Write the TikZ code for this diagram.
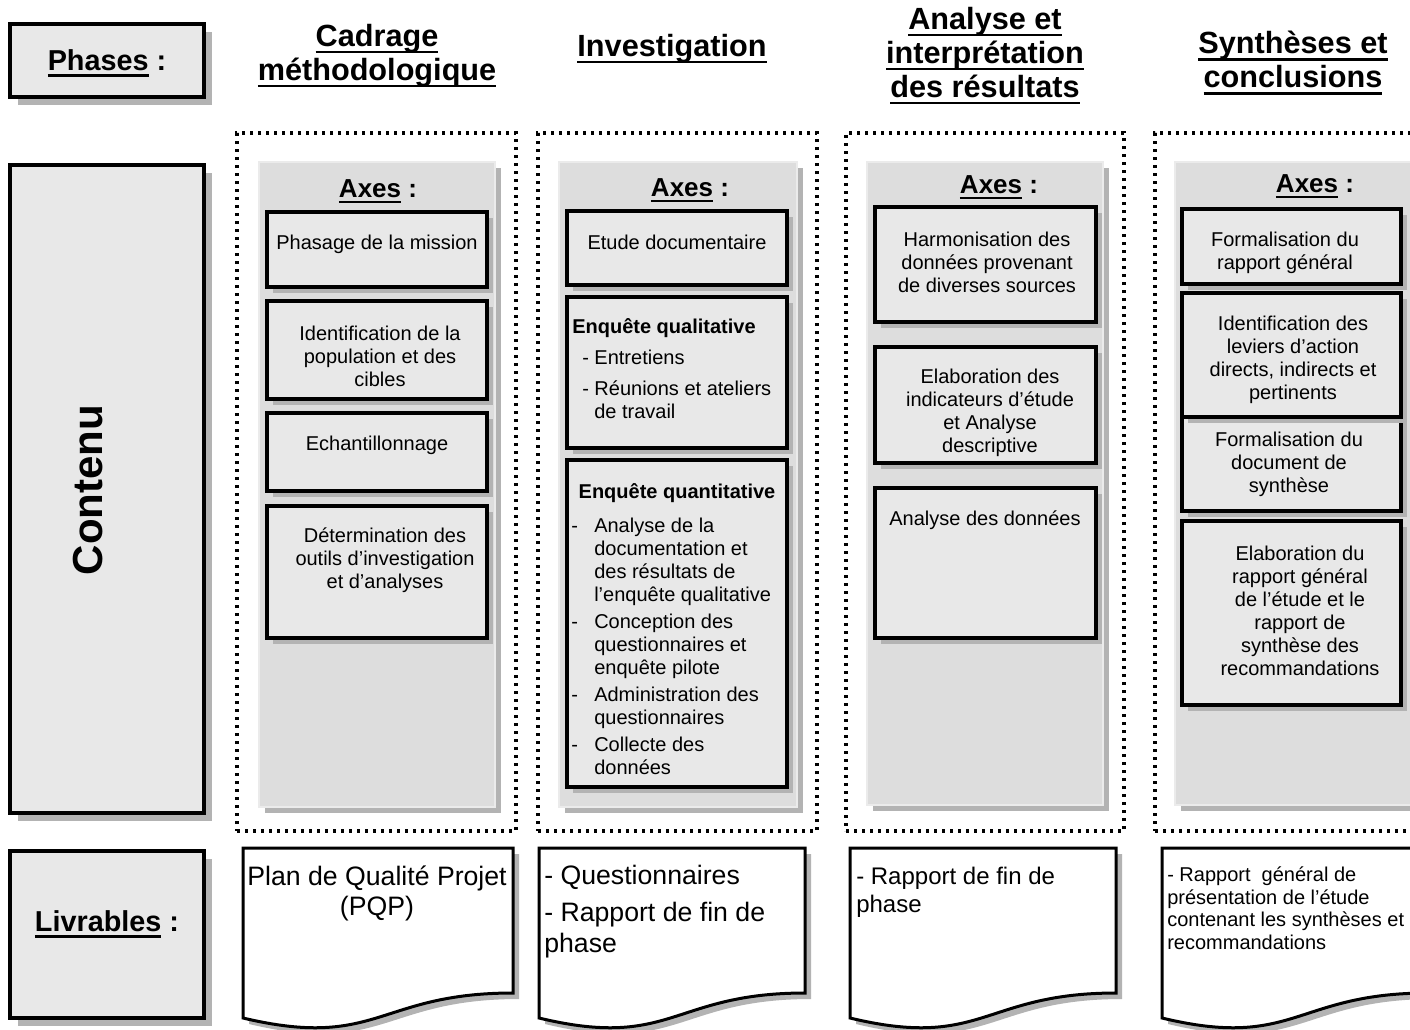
\documentclass[tikz,border=0pt]{standalone}
\usepackage{fontspec}
\setmainfont{Liberation Sans}
\usetikzlibrary{fit,shadows}
\definecolor{boxgrey}{HTML}{E8E8E8}
\definecolor{panelgrey}{HTML}{DDDDDD}
\definecolor{paneledge}{HTML}{EBEBEB}
\definecolor{shadowgrey}{HTML}{B3B3B3}
\newcommand\fs[2]{\fontsize{#1}{#2}\selectfont}
\newsavebox\myulbox
\newcommand\myul[1]{\sbox\myulbox{#1}\rlap{\rule[-0.22em]{\wd\myulbox}{0.085em}}\usebox\myulbox}
\begin{document}
\begin{tikzpicture}[x=0.75pt,y=-0.75pt,
  lbox/.style={draw=black, line width=3pt, fill=boxgrey, inner sep=0pt,
    drop shadow={shadow xshift=6pt, shadow yshift=-6pt, fill=shadowgrey, opacity=1}},
  dotbox/.style={draw=black, line width=2.5pt, dash pattern=on 2.5pt off 3.5pt, inner sep=0pt},
  panel/.style={draw=paneledge, line width=2pt, fill=panelgrey, inner sep=0pt,
    drop shadow={shadow xshift=4.5pt, shadow yshift=-4.5pt, fill=shadowgrey, opacity=1}},
  ibox/.style={draw=black, line width=2.5pt, fill=boxgrey, inner sep=0pt,
    drop shadow={shadow xshift=4.5pt, shadow yshift=-4.5pt, fill=shadowgrey, opacity=1}},
  body/.style={font={\fs{15}{17.25}}, align=center, inner sep=0pt},
  lline/.style={font={\fs{15}{17.25}}, inner sep=0pt, anchor=base west},
  hdr/.style={font={\bfseries\fs{23}{25.5}}, align=center, inner sep=0pt},
  axes/.style={font={\bfseries\fs{19.5}{22}}, inner sep=0pt},
  lbl/.style={font={\bfseries\fs{21.6}{24}}, inner sep=0pt},
  docline/.style={draw=black, line width=2.25pt, fill=white},
  docshadow/.style={fill=shadowgrey, xshift=4.5pt, yshift=-4.5pt},
  docshape/.style n args={2}{insert path={(#1,848) -- (#2,848) -- (#2,993)
     .. controls ({(#1+#2)/2},993) and ({(#1+#2)/2},1050) .. (#1,1018) -- cycle}}
]
\useasboundingbox (0,0) rectangle (1410,1029);

% ---------- left labels ----------
\node[lbox, fit={(10,24) (204,97)}] (phbox) {};
\node[lbl] (phtxt) at (107,63) {\myul{Phases} :};
\node[lbox, fit={(10,165) (204,813)}] (cobox) {};
\node[font={\bfseries\fs{31.5}{34}}, rotate=90, inner sep=0pt] (cotxt) at (88,490) {Contenu};
\node[lbox, fit={(10,851) (204,1018)}] (lvbox) {};
\node[lbl] (lvtxt) at (107,924) {\myul{Livrables} :};

% ---------- headers ----------
\node[hdr] (h1) at (377,56) {\myul{Cadrage}\\\myul{méthodologique}};
\node[hdr] (h2) at (672,49) {\myul{Investigation}};
\node[hdr] (h3) at (985,56) {\myul{Analyse et}\\\myul{interprétation}\\\myul{des résultats}};
\node[hdr] (h4) at (1293,63) {\myul{Synthèses et}\\\myul{conclusions}};

% ---------- dotted containers ----------
\node[dotbox, fit={(237,133) (516,831)}] (c1) {};
\node[dotbox, fit={(538,133) (817,831)}] (c2) {};
\node[dotbox, fit={(846,133) (1124,831)}] (c3) {};
\node[dotbox, fit={(1155,133) (1434,831)}] (c4) {};

% ---------- panels ----------
\node[panel, fit={(259,162) (495,807)}] (p1) {};
\node[panel, fit={(559,162) (797,807)}] (p2) {};
\node[panel, fit={(867,162) (1103,805)}] (p3) {};
\node[panel, fit={(1175,162) (1413,805)}] (p4) {};

\node[axes] (a1) at (378,191) {\myul{Axes} :};
\node[axes] (a2) at (690,190) {\myul{Axes} :};
\node[axes] (a3) at (999,187) {\myul{Axes} :};
\node[axes] (a4) at (1315,186) {\myul{Axes} :};

% ---------- column 1 ----------
\node[ibox, fit={(267,212) (487,287)}] (b11) {};
\node[body] (t11) at (377,244) {Phasage de la mission};
\node[ibox, fit={(267,301) (487,399)}] (b12) {};
\node[body] (t12) at (380,356) {Identification de la\\population et des\\cibles};
\node[ibox, fit={(267,413) (487,491)}] (b13) {};
\node[body] (t13) at (377,445) {Echantillonnage};
\node[ibox, fit={(267,506) (487,638)}] (b14) {};
\node[body] (t14) at (385,560) {Détermination des\\outils d’investigation\\et d’analyses};

% ---------- column 2 ----------
\node[ibox, fit={(567,211) (787,285)}] (b21) {};
\node[body] (t21) at (677,242) {Etude documentaire};
\node[ibox, fit={(567,297) (787,448)}] (b22) {};
\node[lline, font={\bfseries\fs{15}{17.25}}] (t22a) at (572,333) {Enquête qualitative};
\node[lline] (t22b) at (582,364) {- Entretiens};
\node[lline] (t22c) at (582,395) {- Réunions et ateliers};
\node[lline] (t22d) at (594,418) {de travail};
\node[ibox, fit={(567,460) (787,787)}] (b23) {};
\node[body, font={\bfseries\fs{15}{17.25}}] (t23) at (677,493) {Enquête quantitative};
\foreach \yy [count=\i] in {532,628,701,751}
  \node[lline] (dq\i) at (571,\yy) {-};
\foreach \yy/\tt [count=\i] in {532/Analyse de la, 555/documentation et, 578/des résultats de,
   601/l’enquête qualitative, 628/Conception des, 651/questionnaires et, 674/enquête pilote,
   701/Administration des, 724/questionnaires, 751/Collecte des, 774/données}
  \node[lline] (q\i) at (594,\yy) {\tt};

% ---------- column 3 ----------
\node[ibox, fit={(875,207) (1096,322)}] (b31) {};
\node[body] (t31) at (987,262) {Harmonisation des\\données provenant\\de diverses sources};
\node[ibox, fit={(875,347) (1096,463)}] (b32) {};
\node[body] (t32) at (990,413) {Elaboration des\\indicateurs d’étude\\et Analyse\\descriptive};
\node[ibox, fit={(875,488) (1096,638)}] (b33) {};
\node[body] (t33) at (985,520) {Analyse des données};

% ---------- column 4 ----------
\node[ibox, fit={(1182,209) (1401,284)}] (b41) {};
\node[body] (t41) at (1285,253) {Formalisation du\\rapport général};
\node[ibox, fit={(1182,417) (1401,511)}] (b43) {};
\node[body] (t43) at (1289,464) {Formalisation du\\document de\\synthèse};
\node[ibox, fit={(1182,293) (1401,417)}] (b42) {};
\node[body] (t42) at (1293,360) {Identification des\\leviers d’action\\directs, indirects et\\pertinents};
\node[ibox, fit={(1182,521) (1401,705)}] (b44) {};
\node[body] (t44) at (1300,611) {Elaboration du\\rapport général\\de l’étude et le\\rapport de\\synthèse des\\recommandations};

% ---------- deliverables ----------
\foreach \xl/\xr in {243/513, 539/805, 850/1116, 1162/1428} {
  \path[docshadow] [docshape={\xl}{\xr}];
  \path[docline] [docshape={\xl}{\xr}];
}
\node[body, font={\fs{20}{22.5}}] (d1) at (377,893) {Plan de Qualité Projet\\(PQP)};
\node[lline, font={\fs{20}{22.5}}] (d2a) at (544,884) {- Questionnaires};
\node[lline, font={\fs{20}{22.5}}] (d2b) at (544,921) {- Rapport de fin de};
\node[lline, font={\fs{20}{22.5}}] (d2c) at (544,952) {phase};
\node[lline, font={\fs{18}{21}}] (d3a) at (856,884) {- Rapport de fin de};
\node[lline, font={\fs{18}{21}}] (d3b) at (856,912) {phase};
\node[lline] (d4a) at (1167,881) {- Rapport\ \ général de};
\node[lline] (d4b) at (1167,904) {présentation de l’étude};
\node[lline] (d4c) at (1167,926) {contenant les synthèses et};
\node[lline] (d4d) at (1167,949) {recommandations};
\end{tikzpicture}
\end{document}
